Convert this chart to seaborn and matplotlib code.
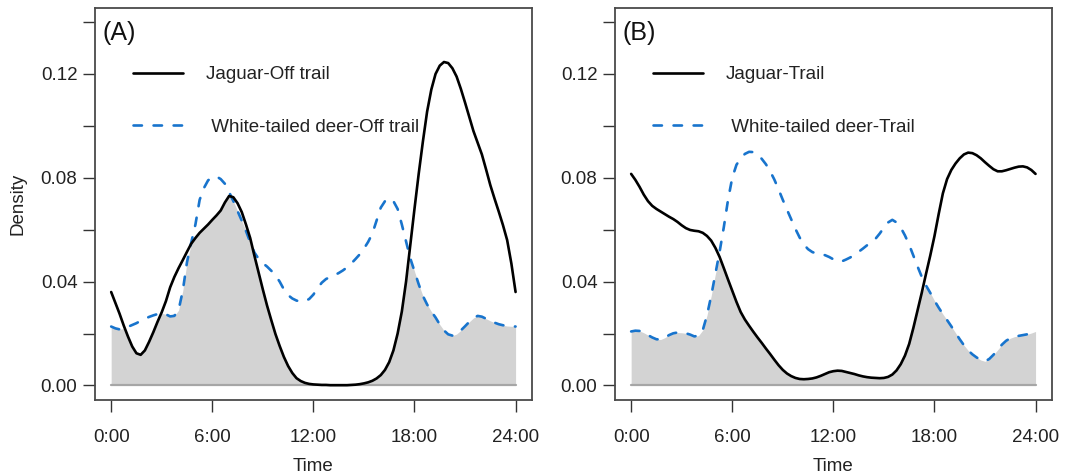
import numpy as np
import pandas as pd
import matplotlib
matplotlib.use("Agg")
import matplotlib.pyplot as plt
import seaborn as sns

# ---- data (every quarter hour) ----
hours = np.arange(0, 24.001, 0.25)

jaguar_off = [
    0.0360, 0.0318, 0.0276, 0.0230, 0.0188, 0.0150, 0.0124, 0.0118,
    0.0135, 0.0168, 0.0205, 0.0245, 0.0282, 0.0325, 0.0378, 0.0418,
    0.0452, 0.0483, 0.0515, 0.0546, 0.0568, 0.0588, 0.0604, 0.0620,
    0.0638, 0.0655, 0.0674, 0.0705, 0.0730, 0.0725, 0.0702, 0.0668,
    0.0620, 0.0568, 0.0500, 0.0435, 0.0370, 0.0308, 0.0252, 0.0198,
    0.0152, 0.0110, 0.0075, 0.0048, 0.0028, 0.0017, 0.0010, 0.0006,
    0.0004, 0.0003, 0.0002, 0.0002, 0.0001, 0.0001, 0.0001, 0.0001,
    0.0001, 0.0002, 0.0003, 0.0005, 0.0008, 0.0012, 0.0018, 0.0027,
    0.0040, 0.0060, 0.0090, 0.0135, 0.0200, 0.0285, 0.0400, 0.0540,
    0.0680, 0.0815, 0.0940, 0.1055, 0.1140, 0.1200, 0.1232, 0.1246,
    0.1242, 0.1222, 0.1190, 0.1143, 0.1090, 0.1035, 0.0980, 0.0935,
    0.0890, 0.0832, 0.0772, 0.0720, 0.0670, 0.0618, 0.0560, 0.0470,
    0.0360]
deer_off = [
    0.0227, 0.0220, 0.0216, 0.0220, 0.0226, 0.0233, 0.0240, 0.0249,
    0.0257, 0.0264, 0.0270, 0.0275, 0.0278, 0.0274, 0.0266, 0.0268,
    0.0290, 0.0365, 0.0475, 0.0550, 0.0620, 0.0715, 0.0760, 0.0790,
    0.0803, 0.0805, 0.0795, 0.0777, 0.0745, 0.0710, 0.0672, 0.0635,
    0.0595, 0.0552, 0.0512, 0.0488, 0.0471, 0.0458, 0.0442, 0.0424,
    0.0400, 0.0370, 0.0348, 0.0335, 0.0327, 0.0323, 0.0325, 0.0333,
    0.0350, 0.0375, 0.0396, 0.0410, 0.0418, 0.0425, 0.0433, 0.0443,
    0.0455, 0.0470, 0.0487, 0.0505, 0.0527, 0.0553, 0.0585, 0.0635,
    0.0685, 0.0710, 0.0721, 0.0710, 0.0680, 0.0620, 0.0555, 0.0490,
    0.0440, 0.0390, 0.0345, 0.0312, 0.0285, 0.0262, 0.0235, 0.0212,
    0.0197, 0.0192, 0.0198, 0.0212, 0.0228, 0.0245, 0.0260, 0.0268,
    0.0265, 0.0257, 0.0249, 0.0242, 0.0236, 0.0232, 0.0229, 0.0228,
    0.0227]
jaguar_trail = [
    0.0815, 0.0792, 0.0765, 0.0735, 0.0710, 0.0692, 0.0680, 0.0670,
    0.0660, 0.0650, 0.0641, 0.0630, 0.0617, 0.0606, 0.0599, 0.0596,
    0.0594, 0.0588, 0.0576, 0.0558, 0.0530, 0.0495, 0.0452, 0.0408,
    0.0365, 0.0322, 0.0283, 0.0254, 0.0230, 0.0207, 0.0185, 0.0164,
    0.0142, 0.0121, 0.0099, 0.0078, 0.0060, 0.0046, 0.0036, 0.0029,
    0.0025, 0.0024, 0.0025, 0.0027, 0.0031, 0.0037, 0.0044, 0.0051,
    0.0055, 0.0057, 0.0056, 0.0052, 0.0048, 0.0044, 0.0039, 0.0035,
    0.0032, 0.0030, 0.0029, 0.0028, 0.0029, 0.0033, 0.0042, 0.0058,
    0.0082, 0.0115, 0.0160, 0.0222, 0.0290, 0.0358, 0.0430, 0.0500,
    0.0575, 0.0660, 0.0740, 0.0795, 0.0830, 0.0855, 0.0875, 0.0890,
    0.0897, 0.0895, 0.0887, 0.0875, 0.0860, 0.0846, 0.0833, 0.0825,
    0.0825, 0.0829, 0.0834, 0.0839, 0.0843, 0.0844, 0.0840, 0.0830,
    0.0815]
deer_trail = [
    0.0208, 0.0211, 0.0210, 0.0203, 0.0194, 0.0185, 0.0178, 0.0177,
    0.0184, 0.0194, 0.0201, 0.0204, 0.0203, 0.0201, 0.0196, 0.0189,
    0.0192, 0.0213, 0.0270, 0.0345, 0.0430, 0.0515, 0.0610, 0.0715,
    0.0800, 0.0850, 0.0875, 0.0892, 0.0900, 0.0899, 0.0890, 0.0873,
    0.0852, 0.0825, 0.0793, 0.0755, 0.0715, 0.0677, 0.0640, 0.0603,
    0.0570, 0.0543, 0.0525, 0.0514, 0.0508, 0.0505, 0.0502, 0.0495,
    0.0486, 0.0478, 0.0478, 0.0485, 0.0493, 0.0503, 0.0515, 0.0527,
    0.0540, 0.0552, 0.0565, 0.0585, 0.0608, 0.0628, 0.0638, 0.0628,
    0.0608, 0.0578, 0.0542, 0.0500, 0.0458, 0.0418, 0.0385, 0.0357,
    0.0327, 0.0300, 0.0275, 0.0252, 0.0228, 0.0203, 0.0178, 0.0155,
    0.0135, 0.0120, 0.0108, 0.0098, 0.0093, 0.0102, 0.0118, 0.0137,
    0.0157, 0.0172, 0.0182, 0.0188, 0.0191, 0.0194, 0.0197, 0.0202,
    0.0208]

panel_tags = ["(A)", "(B)"]
jaguar_labels = ["Jaguar-Off trail", "Jaguar-Trail"]
deer_labels = [" White-tailed deer-Off trail", " White-tailed deer-Trail"]
x_ticks = [0, 6, 12, 18, 24]
x_ticklabels = ["0:00", "6:00", "12:00", "18:00", "24:00"]
y_major = [0.00, 0.04, 0.08, 0.12]
y_minor = [0.02, 0.06, 0.10, 0.14]

# ---- style ----
sns.set_style("ticks")
plt.rcParams["font.family"] = ["Liberation Sans", "DejaVu Sans"]

BLUE = "#1874CD"
FRAME = "#4a4a4a"

fig = plt.figure(figsize=(10.71, 4.75), dpi=100)
ax_a = fig.add_axes([0.0887, 0.1579, 0.4078, 0.8263])
ax_b = fig.add_axes([0.5742, 0.1579, 0.4078, 0.8263])

series = [(jaguar_off, deer_off), (jaguar_trail, deer_trail)]

for i, ax in enumerate([ax_a, ax_b]):
    jag = np.array(series[i][0])
    deer = np.array(series[i][1])
    df = pd.DataFrame({"Time": hours, "jag": jag, "deer": deer})

    # overlap area
    ax.fill_between(df["Time"], 0, np.minimum(jag, deer), color="#d3d3d3", lw=0, zorder=1)
    ax.plot(df["Time"].iloc[[0, -1]], [0, 0], color="#a6a6a6", lw=1.6, zorder=1.5)

    sns.lineplot(data=df, x="Time", y="jag", ax=ax, color="black", lw=1.9,
                 label=jaguar_labels[i], zorder=3)
    sns.lineplot(data=df, x="Time", y="deer", ax=ax, color=BLUE, lw=1.9,
                 linestyle=(0, (3.2, 4.4)), dash_capstyle="round",
                 label=deer_labels[i], zorder=2)

    ax.set_xlim(-0.96, 24.96)
    ax.set_ylim(-0.0056, 0.1456)
    ax.set_xticks(x_ticks)
    ax.set_xticklabels(x_ticklabels)
    ax.set_yticks(y_major)
    ax.set_yticklabels([f"{v:.2f}" for v in y_major])
    ax.set_yticks(y_minor, minor=True)
    ax.tick_params(axis="both", which="both", direction="out", length=8.6, width=1.0,
                   color="#333333", labelsize=13.5, labelcolor="#222222")
    ax.tick_params(axis="x", pad=12)
    ax.tick_params(axis="y", pad=4)
    for sp in ax.spines.values():
        sp.set_visible(True)
        sp.set_color(FRAME)
        sp.set_linewidth(1.3)

    ax.set_xlabel("Time", fontsize=13.5, color="#222222", labelpad=9)
    if i == 0:
        ax.set_ylabel("Density", fontsize=13.5, color="#222222", labelpad=10)
    else:
        ax.set_ylabel("")

    ax.text(0.0176, 0.936, panel_tags[i], transform=ax.transAxes, fontsize=18,
            ha="left", va="center", color="#111111")

    leg = ax.legend(loc="upper left", bbox_to_anchor=(0.0877, 0.851), frameon=False,
                    fontsize=13.5, handlelength=2.63, handletextpad=1.24,
                    labelspacing=1.9, borderpad=0, borderaxespad=0)
    for t in leg.get_texts():
        t.set_color("#222222")

fig.savefig("out.png", dpi=100)
